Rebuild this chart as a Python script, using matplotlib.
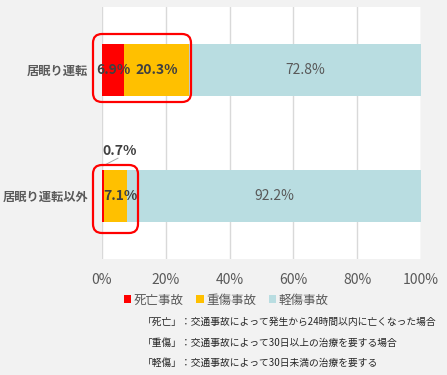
import matplotlib
matplotlib.use("Agg")
import matplotlib.pyplot as plt
import matplotlib.transforms as mtransforms
from matplotlib.patches import FancyBboxPatch, Patch

plt.rcParams['font.family'] = ['Noto Sans CJK JP', 'DejaVu Sans']

# ── data ─────────────────────────────────────────────────────────
categories = ["居眠り運転", "居眠り運転以外"]
series     = ["死亡事故", "重傷事故", "軽傷事故"]
death      = [6.9, 0.7]
serious    = [20.3, 7.1]
minor      = [72.8, 92.2]
xticks     = [0, 20, 40, 60, 80, 100]
notes = [
    "「死亡」：交通事故によって発生から24時間以内に亡くなった場合",
    "「重傷」：交通事故によって30日以上の治療を要する場合",
    "「軽傷」：交通事故によって30日未満の治療を要する",
]

COLORS = ["#FF0000", "#FFC000", "#B9DDE1"]
BG     = "#F2F2F2"
W, H   = 447, 375

fig = plt.figure(figsize=(W / 100, H / 100), dpi=100, facecolor=BG)
px = mtransforms.Affine2D().scale(1 / W, 1 / H) + fig.transFigure  # pixel coords, origin bottom-left

ax = fig.add_axes([102 / W, (H - 259) / H, 319 / W, 252 / H])
ax.set_facecolor("white")

y = list(range(len(categories)))
left = [0] * len(categories)
for vals, col in zip([death, serious, minor], COLORS):
    ax.barh(y, vals, left=left, height=0.405, color=col, zorder=2)
    left = [l + v for l, v in zip(left, vals)]

ax.set_xlim(0, 100)
ax.set_ylim(1.5, -0.5)
ax.set_xticks(xticks)
ax.set_xticklabels([f"{t}%" for t in xticks], fontsize=10, color="#595959")
ax.set_yticks(y)
ax.set_yticklabels(categories, fontsize=8.8, fontweight="bold", color="#595959")
ax.tick_params(axis="x", length=0, pad=10)
ax.tick_params(axis="y", length=0, pad=10)
ax.xaxis.grid(True, color="#D9D9D9", lw=1, zorder=0)
for s in ax.spines.values():
    s.set_visible(False)

# ── bar labels ───────────────────────────────────────────────────
lab_dark = "#404040"
ax.text(death[0] / 2 + 0.2, 0, f"{death[0]}%", ha="center", va="center",
        fontsize=10, fontweight="bold", color=lab_dark, zorder=4)
ax.text(death[0] + serious[0] / 2, 0, f"{serious[0]}%", ha="center", va="center",
        fontsize=10, fontweight="bold", color=lab_dark, zorder=4)
ax.text(death[0] + serious[0] + minor[0] / 2, 0, f"{minor[0]}%", ha="center",
        va="center", fontsize=10, color="#595959", zorder=4)

ax.text(death[1] + serious[1] / 2 + 1.4, 1, f"{serious[1]}%", ha="center", va="center",
        fontsize=10, fontweight="bold", color=lab_dark, zorder=4)
ax.text(death[1] + serious[1] + minor[1] / 2, 1, f"{minor[1]}%", ha="center",
        va="center", fontsize=10, color="#595959", zorder=4)

# small death label above second bar with leader line
ax.plot([death[1] / 2, 5.0], [0.76, 0.70], color="#A6A6A6", lw=0.7, zorder=3,
        clip_on=False)
ax.text(5.6, 0.645, f"{death[1]}%", ha="center", va="center",
        fontsize=10, fontweight="bold", color=lab_dark, zorder=4)

# ── red highlight boxes (pixel coords) ───────────────────────────
for x0, y_top, x1, y_bot in [(93, 34, 191, 102), (93, 165, 138, 233)]:
    fig.patches.append(FancyBboxPatch(
        (x0, H - y_bot), x1 - x0, y_bot - y_top,
        boxstyle="round,pad=0,rounding_size=9",
        transform=px, fill=False, edgecolor="#FF0000", lw=1.6, zorder=10))

# ── legend ───────────────────────────────────────────────────────
handles = [Patch(facecolor=c, edgecolor="none", label=s) for s, c in zip(series, COLORS)]
fig.legend(handles=handles, loc="center", bbox_to_anchor=(226 / W, 1 - 300 / H),
           ncol=3, frameon=False, fontsize=9, handlelength=0.6, handleheight=0.6,
           handletextpad=0.2, columnspacing=1.0, labelcolor="#595959")

# ── notes ────────────────────────────────────────────────────────
for i, line in enumerate(notes):
    fig.text(143 / W, 1 - (322 + 20.5 * i) / H, line, ha="left", va="center",
             fontsize=7, color="#262626")

fig.savefig("out.png", dpi=100, facecolor=BG)
